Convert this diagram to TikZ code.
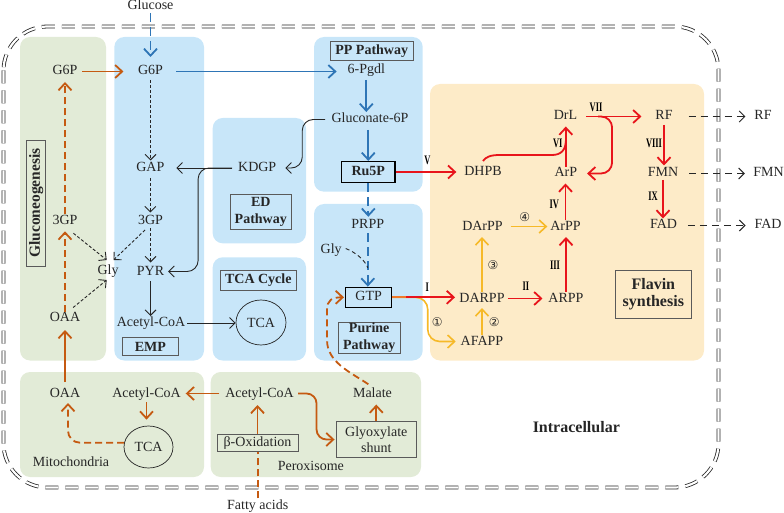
\documentclass[tikz,border=0pt]{standalone}
\usepackage{fontspec}
\setmainfont{Liberation Serif}
\newfontfamily\dvs{DejaVu Sans}
\newfontfamily\romfont[FakeStretch=0.65]{Liberation Serif}
\usetikzlibrary{arrows.meta,calc,shapes.geometric}
\definecolor{pgreen}{HTML}{E2EBD7}
\definecolor{pblue}{HTML}{C8E6F9}
\definecolor{pyel}{HTML}{FDEBC8}
\definecolor{cblue}{HTML}{2E75B6}
\definecolor{corange}{HTML}{C55A11}
\definecolor{cred}{HTML}{E8141B}
\definecolor{cyel}{HTML}{F6B928}
\definecolor{cmix}{HTML}{F07A2A}
\definecolor{ctext}{HTML}{262626}
\definecolor{cbox}{HTML}{5A5A5A}
\tikzset{
  txt/.style={font=\fontsize{14}{17}\selectfont, text=ctext, inner sep=0pt, outer sep=0pt, text height=10pt, text depth=3pt},
  lbl/.style={draw=cbox, line width=0.8pt, font=\bfseries\fontsize{14}{16.7}\selectfont, text=ctext, align=center, inner sep=0pt},
  keybox/.style={draw=black, line width=1.4pt, font=\fontsize{14}{17}\selectfont, text=ctext, inner sep=0pt, text height=10pt, text depth=3pt},
  regbox/.style={draw=cbox, line width=0.8pt, font=\fontsize{14}{16}\selectfont, text=ctext, align=center, inner sep=0pt},
  circnode/.style={draw=ctext, line width=0.7pt, ellipse, inner sep=0pt, font=\fontsize{14}{17}\selectfont, text=ctext},
  rom/.style={font=\romfont\bfseries\fontsize{13}{15}\selectfont, text=black, inner sep=0pt},
  cnum/.style={font=\dvs\fontsize{12}{14}\selectfont, text=ctext, inner sep=0pt},
  panelG/.style={fill=pgreen, rounded corners=10pt},
  panelB/.style={fill=pblue, rounded corners=10pt},
  panelY/.style={fill=pyel, rounded corners=10pt},
  bigtip/.style={-{Straight Barb[length=7pt,width=13pt]}},
  smalltip/.style={-{Straight Barb[length=5.5pt,width=11pt]}},
  bA/.style={draw=cblue, line width=1.8pt, bigtip},
  oA/.style={draw=corange, line width=1.8pt, bigtip},
  rA/.style={draw=cred, line width=1.8pt, bigtip},
  yA/.style={draw=cyel, line width=1.6pt, bigtip},
  kA/.style={draw=ctext, line width=0.9pt, smalltip},
  kD/.style={kA, dash pattern=on 3pt off 2pt},
  bD/.style={dash pattern=on 9pt off 5pt},
  oD/.style={dash pattern=on 7pt off 4pt},
  gD/.style={draw=ctext, line width=1pt, dash pattern=on 7pt off 5pt, smalltip},
}
\begin{document}
\begin{tikzpicture}[x=1pt,y=-1pt]
\useasboundingbox (0,0) rectangle (784,513);
% panels
\fill[panelG] (20,37) rectangle (106,360.5);
\fill[panelB] (114.3,37) rectangle (204,360.5);
\fill[panelB] (212.7,118) rectangle (306,243.3);
\fill[panelB] (212.7,257.3) rectangle (306,360.5);
\fill[panelB] (314,37) rectangle (422.7,191.7);
\fill[panelB] (314,204) rectangle (422.7,360.5);
\fill[panelY] (430,84) rectangle (704,360.5);
\fill[panelG] (20,372) rectangle (204,477);
\fill[panelG] (210.7,372) rectangle (421,477);
% outer boundary
\draw[draw=ctext, line width=0.8pt, double=white, double distance=2.2pt, dash pattern=on 13pt off 7pt, rounded corners=44pt] (3.5,26.5) rectangle (718.5,487.5);

% nodes
\node[txt] (glucose) at (150.5,6.5) {Glucose};
\node[txt] (g6pA) at (65,71.5) {G6P};
\node[txt] (g6pB) at (150.5,71.5) {G6P};
\node[txt] (pgdl) at (366.3,70.5) {6-Pgdl};
\node[lbl, minimum width=83.3pt, minimum height=18.3pt] (pplbl) at (371.7,50.8) {PP Pathway};
\node[txt] (gluc6p) at (370,119.5) {Gluconate-6P};
\node[txt] (kdgp) at (257.2,168) {KDGP};
\node[txt] (gap) at (150.3,168.5) {GAP};
\node[txt] (tgpB) at (150.5,220.5) {3GP};
\node[txt] (tgpA) at (65,220.8) {3GP};
\node[txt] (glyA) at (108,270.8) {Gly};
\node[txt] (pyr) at (150.5,271.5) {PYR};
\node[txt] (oaaA) at (65,318) {OAA};
\node[txt] (acoB) at (151,323) {Acetyl-CoA};
\node[lbl, minimum width=56pt, minimum height=18.3pt] (emp) at (150.3,346.5) {EMP};
\node[lbl, rotate=90, minimum width=126pt, minimum height=19pt, font=\bfseries\fontsize{15.5}{17}\selectfont] (glulbl) at (36.2,203) {Gluconeogenesis};
\node[lbl, minimum width=61.7pt, minimum height=35.3pt] (edlbl) at (260.8,211.7) {ED\\Pathway};
\node[lbl, minimum width=75.3pt, minimum height=20pt] (tcalbl) at (258.3,280) {TCA Cycle};
\node[circnode, minimum width=50pt, minimum height=45pt] (tcaB) at (261,322.5) {TCA};
\node[keybox, font=\bfseries\fontsize{14}{17}\selectfont, minimum width=53.3pt, minimum height=20.7pt] (ru5p) at (368.3,172) {Ru5P};
\node[txt] (prpp) at (367.8,224.8) {PRPP};
\node[txt] (glyP) at (331.2,249.5) {Gly};
\node[keybox, minimum width=46pt, minimum height=20pt] (gtp) at (368.7,297.3) {GTP};
\node[lbl, minimum width=61.7pt, minimum height=30.7pt] (purlbl) at (369.2,338) {Purine\\Pathway};

\node[txt] (oaaM) at (65,393.5) {OAA};
\node[txt] (acoM) at (146.5,393.5) {Acetyl-CoA};
\node[circnode, minimum width=49pt, minimum height=42pt] (tcaM) at (148.5,447) {TCA};
\node[txt] (mito) at (71,463) {Mitochondria};
\node[txt] (acoP) at (259.5,393.5) {Acetyl-CoA};
\node[txt] (malate) at (372.5,393.5) {Malate};
\node[regbox, minimum width=81pt, minimum height=17pt] (beta) at (257.5,442.7) {β-Oxidation};
\node[regbox, minimum width=80.7pt, minimum height=35.7pt] (glyox) at (376.3,439.5) {Glyoxylate\\shunt};
\node[txt] (perox) at (310.8,467) {Peroxisome};
\node[txt] (fatty) at (257.7,505.8) {Fatty acids};
\node[font=\bfseries\fontsize{16}{19}\selectfont, text=ctext, inner sep=0pt] (intra) at (576.3,427.5) {Intracellular};

\node[txt] (dhpb) at (483,172.5) {DHPB};
\node[txt] (drl) at (565.5,116.5) {DrL};
\node[txt] (arp) at (565.8,173.5) {ArP};
\node[txt] (rf) at (664,116.5) {RF};
\node[txt] (fmn) at (663,173.5) {FMN};
\node[txt] (fad) at (663.5,225.5) {FAD};
\node[txt] (darpp2) at (482.5,226.5) {DArPP};
\node[txt] (arpp2) at (565.5,226.5) {ArPP};
\node[txt] (darpp) at (482,298.5) {DARPP};
\node[txt] (arpp) at (566,298.5) {ARPP};
\node[txt] (afapp) at (482,341.5) {AFAPP};
\node[lbl, minimum width=76.7pt, minimum height=48.3pt, font=\bfseries\fontsize{16}{17.4}\selectfont] (flvlbl) at (653.3,294.2) {Flavin\\synthesis};
\node[txt] (rfo) at (763,116.5) {RF};
\node[txt] (fmno) at (768.5,173.5) {FMN};
\node[txt] (fado) at (768,225.5) {FAD};

\node[rom] (rI) at (427.3,287.5) {I};
\node[rom] (rII) at (525.8,286.7) {II};
\node[rom] (rIII) at (555,265.7) {III};
\node[rom] (rIV) at (554.2,204) {IV};
\node[rom] (rV) at (427.5,160.8) {V};
\node[rom] (rVI) at (557.8,143.3) {VI};
\node[rom] (rVII) at (596,107.2) {VII};
\node[rom] (rVIII) at (654,143) {VIII};
\node[rom] (rIX) at (653,196.7) {IX};
\node[cnum] (c1) at (437.2,322) {①};
\node[cnum] (c2) at (494.2,321.7) {②};
\node[cnum] (c3) at (493,265) {③};
\node[cnum] (c4) at (524.7,216.7) {④};

% blue connectors
\draw[bA, bD, shorten >=8pt] (glucose.south) -- (glucose.south |- g6pB.north);
\draw[bA, shorten <=13.5pt, shorten >=11pt] (g6pB.east) -- (g6pB.east -| pgdl.west);
\draw[bA, shorten <=3pt, shorten >=1pt] (pgdl.south) -- (pgdl.south |- gluc6p.north);
\draw[bA, shorten <=4pt] (gluc6p.south -| ru5p.north) -- (ru5p.north);
\draw[bA, bD, shorten >=1.5pt] (ru5p.south) -- (ru5p.south |- prpp.north);
\draw[bA, bD, shorten <=2pt] (prpp.south) -- (prpp.south |- gtp.north);
\draw[draw=ctext, line width=0.9pt, dash pattern=on 4pt off 3pt] ($(glyP.east)+(4,-1)$) .. controls +(10,4) and +(-3,-8) .. ($(prpp.south)!0.66!(prpp.south |- gtp.north)$);

% black connectors
\draw[kD, shorten <=2pt, shorten >=1.5pt] (g6pB.south) -- (g6pB.south |- gap.north);
\draw[kD, shorten <=3pt, shorten >=1.5pt] (gap.south) -- (gap.south |- tgpB.north);
\draw[kD, shorten <=1pt, shorten >=2.5pt] (tgpB.south) -- (tgpB.south |- pyr.north);
\draw[kA, shorten <=3pt, shorten >=0.5pt] (pyr.south) -- (pyr.south |- acoB.north);
\draw[kA, shorten <=2pt] (acoB.east) -- (acoB.east -| tcaB.west);
\draw[kA, shorten <=6pt, shorten >=12pt] (kdgp.west) -- (kdgp.west -| gap.east);
\draw[kA, rounded corners=11pt, shorten <=6pt, shorten >=4pt] (kdgp.west) -| ($(pyr.east)+(34,0)$) -- (pyr.east);
\draw[kA, rounded corners=11pt, shorten <=6.5pt, shorten >=9pt] (gluc6p.west) -| ($(kdgp.east)+(26,0)$) -- (kdgp.east);
\draw[kD] ($(tgpA.south east)+(-4,6)$) -- ($(glyA.north)+(-1.3,-4.3)$);
\draw[kD] ($(tgpB.south west)+(7,3)$) -- ($(glyA.north east)+(-5,-4.3)$);
\draw[kD] ($(oaaA.north east)+(-7,-4)$) -- ($(glyA.south west)+(9.2,2.7)$);

% orange connectors
\draw[oA, shorten <=4.6pt, shorten >=14.6pt] (g6pA.east) -- (g6pA.east -| g6pB.west);
\draw[oA, oD, shorten >=4pt] (tgpA.north) -- (tgpA.north |- g6pA.south);
\draw[oA, oD, shorten >=4pt] (oaaA.north) -- (oaaA.north |- tgpA.south);
\draw[oA, shorten <=5pt, shorten >=5.5pt] (oaaM.north) -- (oaaM.north |- oaaA.south);
\draw[oA, shorten <=6pt, shorten >=5pt] (acoP.west) -- (acoP.west -| acoM.east);
\draw[oA, shorten <=2pt, shorten >=6pt] (acoM.south) -- (acoM.south |- tcaM.north);
\draw[oA, oD, rounded corners=12pt, shorten >=3pt] (tcaM.170) -| ($(oaaM.south)+(3,0)$);
\draw[oA, shorten >=5pt] (beta.north) -- (beta.north |- acoP.south);
\draw[draw=corange, line width=1.8pt, oD, shorten <=1pt] (fatty.north) -- (fatty.north |- beta.south);
\draw[oA, rounded corners=10pt, shorten <=4.5pt, shorten >=1pt] (acoP.east) -| ($(glyox.west)+(-19,0)$) -- (glyox.west);
\draw[oA, shorten >=4.5pt] (glyox.north) -- (glyox.north |- malate.south);
\draw[oA, oD, shorten <=5pt, shorten >=1pt] (malate.north) .. controls (350,372) and (327,362) .. (327,340) -- (327,310) .. controls (327,300) and (332,297.3) .. (gtp.west);

% yellow connectors
\draw[yA, rounded corners=12pt, shorten >=5pt] (gtp.east) -| ($(afapp.west)+(-33,0)$) -- (afapp.west);
\draw[yA, shorten >=3pt] (afapp.north) -- (afapp.north |- darpp.south);
\draw[yA, shorten >=4pt] (darpp.north) -- (darpp.north |- darpp2.south);
\draw[yA, shorten <=8pt, shorten >=3pt] (darpp2.east) -- (darpp2.east -| arpp2.west);

% red connectors
\draw[rA, shorten >=8pt] (ru5p.east) -- (ru5p.east -| dhpb.west);
\draw[draw=cmix, line width=1.8pt] (gtp.east) -- ($(gtp.east)+(14,0)$);
\draw[rA, shorten >=4.4pt] ($(gtp.east)+(14,0)$) -- (gtp.east -| darpp.west);
\draw[rA, shorten <=3.4pt, shorten >=6pt] (darpp.east) -- (darpp.east -| arpp.west);
\draw[rA, shorten >=4pt] (arpp.north) -- (arpp.north |- arpp2.south);
\draw[rA, shorten >=3.5pt] (arpp2.north) -- (arpp2.north |- arp.south);
\draw[rA, shorten >=3.5pt] (arp.north) -- (arp.north |- drl.south);
\draw[draw=cred, line width=1.8pt] ($(dhpb.north)+(0,-5)$) .. controls (486,157) and (490,155) .. (500,155) -- (552,155) .. controls (561,155) and (565.8,150) .. ($(arp.north)!0.6!(arp.north |- drl.south)$);
\draw[rA, shorten <=9pt, shorten >=14pt] (drl.east) -- (drl.east -| rf.west);
\draw[rA, rounded corners=11pt, shorten >=10pt] ($(drl.east)+(21,0)$) -| ($(arp.east)+(35,0)$) -- (arp.east);
\draw[rA, shorten <=2pt, shorten >=1.5pt] (rf.south) -- (rf.south |- fmn.north);
\draw[rA, shorten >=0.5pt] (fmn.south) -- (fmn.south |- fad.north);

% export connectors
\draw[gD, shorten <=16pt, shorten >=9pt] (rf.east) -- (rf.east -| rfo.west);
\draw[gD, shorten <=11pt, shorten >=8.5pt] (fmn.east) -- (fmn.east -| fmno.west);
\draw[gD, shorten <=11pt, shorten >=9pt] (fad.east) -- (fad.east -| fado.west);
\end{tikzpicture}
\end{document}
